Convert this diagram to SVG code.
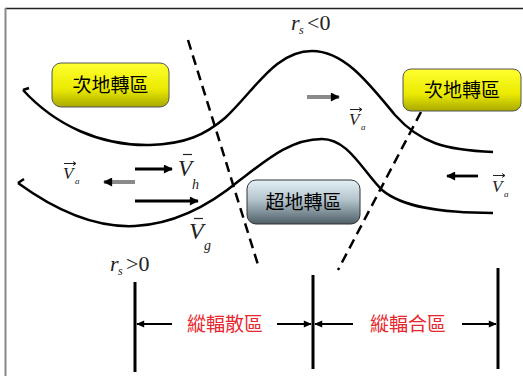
<svg xmlns="http://www.w3.org/2000/svg" width="523" height="376" viewBox="0 0 523 376">
<defs>
<linearGradient id="yel" x1="0" y1="0" x2="0" y2="1"><stop offset="0" stop-color="#ffff30"/><stop offset="0.6" stop-color="#eaea00"/><stop offset="1" stop-color="#a8a800"/></linearGradient>
<linearGradient id="gry" x1="0" y1="0" x2="0" y2="1"><stop offset="0" stop-color="#e4f0f6"/><stop offset="0.45" stop-color="#b4c4cc"/><stop offset="1" stop-color="#4e5e66"/></linearGradient>
<marker id="ah" viewBox="0 0 10 10" refX="9" refY="5" markerWidth="10" markerHeight="9" orient="auto" markerUnits="userSpaceOnUse"><path d="M0,0 L10,5 L0,10 z" fill="#000"/></marker>
<marker id="sa" viewBox="0 0 10 10" refX="9" refY="5" markerWidth="9" markerHeight="8" orient="auto" markerUnits="userSpaceOnUse"><path d="M0,0.5 L10,5 L0,9.5 z" fill="#000"/></marker>
</defs>
<style>
.curve{fill:none;stroke:#000;stroke-width:2.5}
.dash{fill:none;stroke:#000;stroke-width:2.5;stroke-dasharray:10 6}
.blk{stroke:#000;stroke-width:2.8;marker-end:url(#ah)}
.gray{stroke:#8a8a8a;stroke-width:4;marker-end:url(#ah)}
.dim{stroke:#000;stroke-width:2.2;marker-end:url(#sa)}
.bar{stroke:#000;stroke-width:3}
.cjk{font-family:"Noto Sans CJK TC","Noto Sans CJK SC",sans-serif;font-size:19px;text-anchor:middle}
.red{fill:#e8262e}
.m{font-family:"Liberation Serif","Times New Roman",serif;font-style:italic;fill:#222}
.n{font-family:"Liberation Serif","Times New Roman",serif;fill:#222}
.vec{stroke:#222;stroke-width:1;fill:none}
</style>
<rect x="0" y="0" width="523" height="376" fill="#fff"/>
<line x1="5" y1="8.5" x2="523" y2="8.5" stroke="#222" stroke-width="1.5"/>
<line x1="5.5" y1="8" x2="5.5" y2="376" stroke="#888" stroke-width="2"/>

<g id="curves">
<path class="curve" d="M23,90 C55,125 100,146 150,145 C185,144 205,135 225,118 C255,90 275,51 312,51 C345,51 370,85 395,115 C420,143 445,150 493,152"/>
<path class="curve" d="M18,183 C55,210 95,228 135,226 C175,224 210,205 240,180 C270,157 292,139 322,139 C348,139 362,170 382,190 C402,207 440,213 493,213"/>
<path class="curve" d="M18,183 l6,-4 M23,90 l6,-2"/>
</g>
<g id="dashes">
<line class="dash" x1="188" y1="40" x2="259" y2="268"/>
<line class="dash" x1="421" y1="112" x2="338" y2="270"/>
</g>

<g id="box-left">
<rect x="52" y="63" width="117" height="44" rx="9" fill="url(#yel)" stroke="#555" stroke-width="1"/>
<text class="cjk" x="110.5" y="92">次地轉區</text>
</g>
<g id="box-right">
<rect x="403" y="69" width="118" height="42" rx="8" fill="url(#yel)" stroke="#555" stroke-width="1"/>
<text class="cjk" x="462" y="97">次地轉區</text>
</g>
<g id="box-mid">
<rect x="247" y="180" width="113" height="44" rx="9" fill="url(#gry)" stroke="#333" stroke-width="1"/>
<text class="cjk" x="303.5" y="209">超地轉區</text>
</g>

<g id="arrows">
<line class="gray" x1="135" y1="182" x2="104" y2="182"/>
<line class="blk" x1="135" y1="169" x2="172" y2="169"/>
<line class="blk" x1="135" y1="201" x2="198" y2="201"/>
<line class="gray" x1="307" y1="97" x2="339" y2="97"/>
<line class="blk" x1="478" y1="176" x2="447" y2="176"/>
</g>

<g id="labels">
<text class="m" x="63" y="179" font-size="17">V</text><text class="m" x="75" y="184" font-size="9">a</text>
<path class="vec" d="M64,163.5 H76 M73,161.5 L76,163.5 L73,165.5"/>
<text class="m" x="349" y="125" font-size="17">V</text><text class="m" x="361" y="130" font-size="9">a</text>
<path class="vec" d="M350,109.5 H362 M359,107.5 L362,109.5 L359,111.5"/>
<text class="m" x="492" y="192" font-size="17">V</text><text class="m" x="504" y="197" font-size="9">a</text>
<path class="vec" d="M493,175.5 H505 M502,173.5 L505,175.5 L502,177.5"/>
<text class="m" x="178" y="176" font-size="23">V</text><text class="m" x="192" y="189" font-size="14">h</text>
<line x1="183" y1="154.5" x2="192" y2="154.5" stroke="#222" stroke-width="1.2"/>
<text class="m" x="189" y="239" font-size="24">V</text><text class="m" x="204" y="250" font-size="14">g</text>
<line x1="194" y1="218.5" x2="203" y2="218.5" stroke="#222" stroke-width="1.2"/>
<text class="m" x="291" y="30" font-size="22">r</text><text class="m" x="299" y="34" font-size="12">s</text><text class="n" x="307" y="30" font-size="22">&lt;0</text>
<text class="m" x="110" y="271" font-size="22">r</text><text class="m" x="118" y="275" font-size="12">s</text><text class="n" x="126" y="271" font-size="22">&gt;0</text>
</g>

<g id="dimension">
<line class="bar" x1="135" y1="282" x2="135" y2="372"/>
<line class="bar" x1="313" y1="275" x2="313" y2="369"/>
<line class="bar" x1="498" y1="268" x2="498" y2="369"/>
<line class="dim" x1="172" y1="324" x2="137" y2="324"/>
<line class="dim" x1="277" y1="324" x2="311" y2="324"/>
<line class="dim" x1="353" y1="324" x2="315" y2="324"/>
<line class="dim" x1="462" y1="324" x2="496" y2="324"/>
<text class="cjk red" x="225" y="331">縱輻散區</text>
<text class="cjk red" x="408" y="331">縱輻合區</text>
</g>
</svg>
